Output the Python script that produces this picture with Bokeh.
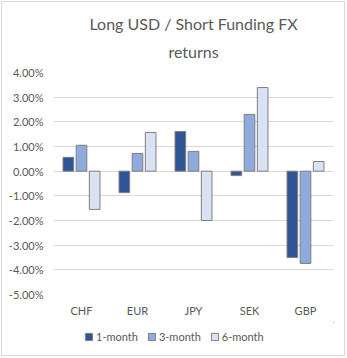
from bokeh.plotting import figure
from bokeh.layouts import column
from bokeh.models import (FactorRange, Range1d, PrintfTickFormatter, FixedTicker,
                          Legend, LegendItem, Title, ColumnDataSource)
from bokeh.transform import dodge
from bokeh.embed import file_html
from bokeh.resources import INLINE

currencies = ["CHF", "EUR", "JPY", "SEK", "GBP"]
one_month = [0.56, -0.87, 1.61, -0.18, -3.50]
three_month = [1.05, 0.72, 0.80, 2.30, -3.74]
six_month = [-1.55, 1.57, -2.00, 3.39, 0.39]
series_names = ["1-month", "3-month", "6-month"]
y_ticks = [-5, -4, -3, -2, -1, 0, 1, 2, 3, 4]

colors = ["#2F5597", "#8FAADC", "#DAE3F3"]
edge = "#7F7F7F"
text_color = "#595959"
FONT = "Lato"

source = ColumnDataSource(dict(cur=currencies, m1=one_month, m3=three_month, m6=six_month))

p = figure(width=342, height=320, x_range=FactorRange(*currencies, range_padding=0),
           y_range=Range1d(-5, 4), output_backend="svg", toolbar_location=None,
           min_border_left=51, min_border_right=11, min_border_top=70, min_border_bottom=28)
p.outline_line_color = None
p.background_fill_color = "white"
p.border_fill_color = "white"

for key, off, col in zip(["m1", "m3", "m6"], [-0.235, 0.0, 0.235], colors):
    p.vbar(x=dodge("cur", off, range=p.x_range), top=key, bottom=0, width=0.19,
           source=source, fill_color=col, line_color=edge, line_width=1)

p.xgrid.grid_line_color = None
p.ygrid.grid_line_color = "#D9D9D9"
p.ygrid.ticker = FixedTicker(ticks=y_ticks)

p.yaxis.ticker = FixedTicker(ticks=y_ticks)
p.yaxis.formatter = PrintfTickFormatter(format="%.2f%%")
for ax in (p.xaxis, p.yaxis):
    ax.axis_line_color = None
    ax.major_tick_line_color = None
    ax.minor_tick_line_color = None
    ax.major_tick_out = 0
    ax.major_tick_in = 0
    ax.major_label_text_color = text_color
    ax.major_label_text_font = FONT
    ax.major_label_text_font_size = "11px"
p.yaxis.major_label_standoff = 10
p.xaxis.major_label_standoff = 9

t2 = Title(text="returns", align="center", text_font=FONT, text_font_size="16px",
           text_font_style="normal", text_color=text_color, standoff=23, offset=3)
t1 = Title(text="Long USD / Short Funding FX", align="center", text_font=FONT,
           text_font_size="16px", text_font_style="normal", text_color=text_color,
           standoff=-9, offset=3)
p.add_layout(t2, "above")
p.add_layout(t1, "above")

# legend in its own strip below the chart (frame aligned with the chart's frame)
lf = figure(width=342, height=33, x_range=Range1d(0, 1), y_range=Range1d(0, 1),
            output_backend="svg", toolbar_location=None, x_axis_location=None,
            y_axis_location=None, min_border=0)
lf.outline_line_color = None
lf.xgrid.grid_line_color = None
lf.ygrid.grid_line_color = None
lf.background_fill_color = "white"
lf.border_fill_color = "white"
dummy = []
for col in colors:
    # legend proxies, placed outside the visible range
    dummy.append(lf.vbar(x=[5], top=[5], bottom=[4], width=0.1, fill_color=col,
                         line_color=edge, line_width=1))

legend = Legend(items=[LegendItem(label=n, renderers=[r]) for n, r in zip(series_names, dummy)],
                orientation="horizontal", location=(31, 12), padding=0, margin=0,
                spacing=9, glyph_width=9, glyph_height=9, label_standoff=3,
                label_height=9, label_text_font=FONT, label_text_font_size="11px",
                label_text_color=text_color, border_line_color=None,
                background_fill_alpha=0)
lf.add_layout(legend, "center")

layout = column(p, lf, spacing=0,
                styles={"border": "1px solid #D9D9D9", "margin": "1px"})

open("out.html", "w").write(file_html(layout, INLINE))
